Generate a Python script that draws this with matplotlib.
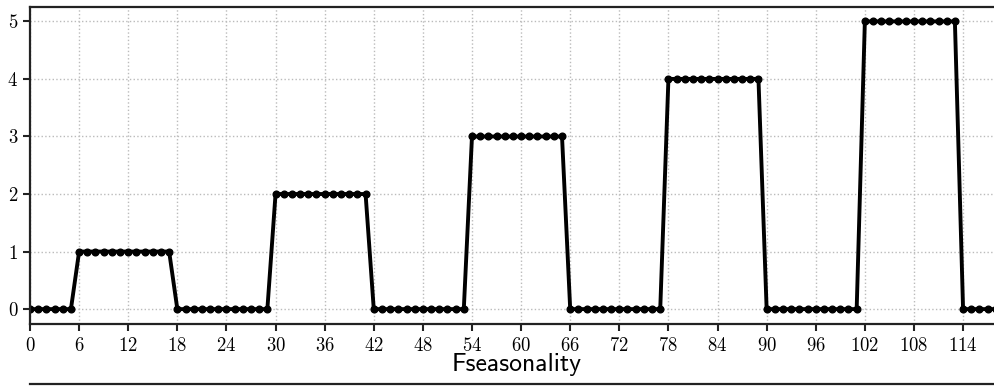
import numpy as np
import matplotlib
matplotlib.use('Agg')
import matplotlib.pyplot as plt

# Seasonality pattern, one value per time step
t = list(range(120))
levels = [0] * 6 + [1] * 12 + [0] * 12 + [2] * 12 + [0] * 12 + [3] * 12 + \
         [0] * 12 + [4] * 12 + [0] * 12 + [5] * 12 + [0] * 6
xticks = list(range(0, 120, 6))
yticks = [0, 1, 2, 3, 4, 5]

plt.rcParams['font.family'] = 'cmr10'
plt.rcParams['axes.formatter.use_mathtext'] = True

fig = plt.figure(figsize=(9.95, 3.86), dpi=100)
ax = fig.add_axes([30 / 995, 62.5 / 386, 974 / 995, 316.5 / 386])

ax.plot(t, levels, color='black', linewidth=2.8, marker='o', markersize=4.8)

ax.set_xlim(0, 119)
ax.set_ylim(-0.25, 5.25)
ax.set_xticks(xticks)
ax.set_yticks(yticks)
ax.tick_params(labelsize=13.5, width=1.5, length=5, color='#222222')
ax.tick_params(axis='x', pad=4.5)
ax.grid(True, linestyle=':', color='#bbbbbb', linewidth=1)
for side in ['left', 'top', 'bottom']:
    ax.spines[side].set_linewidth(1.6)
    ax.spines[side].set_color('#222222')
ax.spines['right'].set_visible(False)
ax.set_xlabel('Fseasonality', fontfamily='cmss10', fontsize=18.5, labelpad=-1)

# next panel below, only its top edge falls inside the image
ax2 = fig.add_axes([30 / 995, -0.5, 974 / 995, 0.5 + 2.5 / 386])
ax2.set_xticks([])
ax2.set_yticks([])
for side in ['left', 'right', 'bottom']:
    ax2.spines[side].set_visible(False)
ax2.spines['top'].set_linewidth(1.6)
ax2.spines['top'].set_color('#222222')

fig.savefig('out.png', dpi=100)
